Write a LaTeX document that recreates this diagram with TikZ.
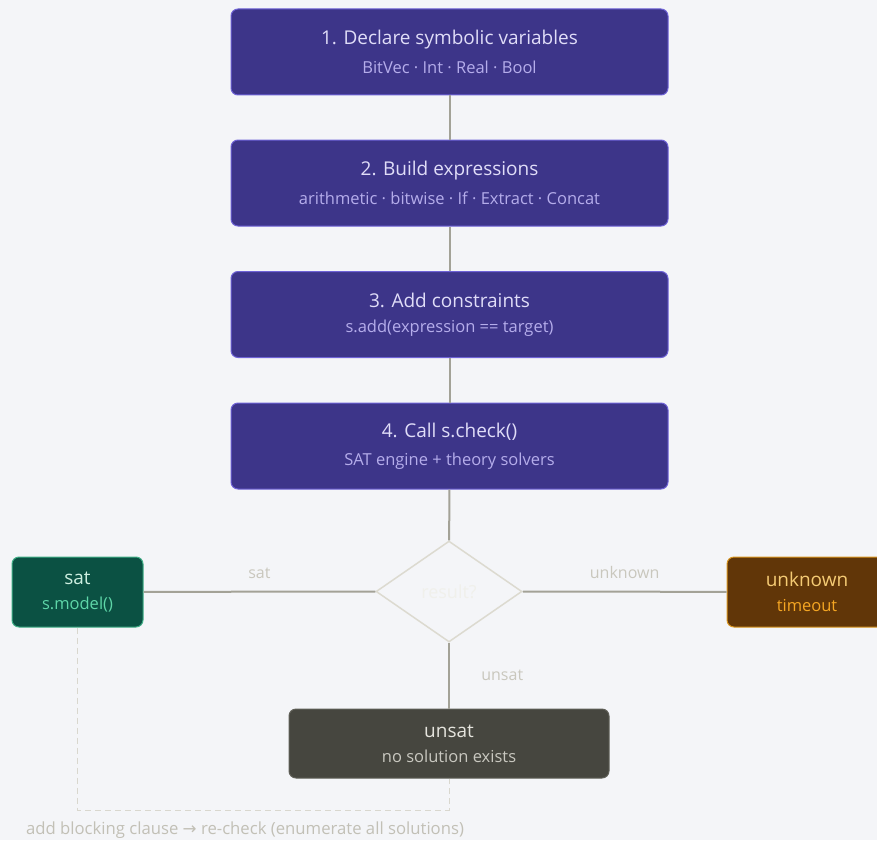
\documentclass[tikz,border=0pt]{standalone}
\usepackage{fontspec}
\setmainfont{Open Sans}
\newfontfamily\arrowfont{DejaVu Sans}
\usetikzlibrary{shapes.geometric}

\definecolor{bg}{HTML}{F4F5F8}
\definecolor{stepfill}{HTML}{3D3589}
\definecolor{stepedge}{HTML}{6E62D6}
\definecolor{steptitle}{HTML}{E0DDF8}
\definecolor{stepsub}{HTML}{B5ADEB}
\definecolor{satfill}{HTML}{0B5143}
\definecolor{satedge}{HTML}{3FAE86}
\definecolor{sattitle}{HTML}{CDEFE0}
\definecolor{satsub}{HTML}{5ED6A8}
\definecolor{unkfill}{HTML}{613608}
\definecolor{unkedge}{HTML}{D9951F}
\definecolor{unktitle}{HTML}{F5CB74}
\definecolor{unksub}{HTML}{F5A623}
\definecolor{unsfill}{HTML}{46463F}
\definecolor{unsedge}{HTML}{606058}
\definecolor{unstitle}{HTML}{E5E4DD}
\definecolor{unssub}{HTML}{C9C8C0}
\definecolor{link}{HTML}{A3A297}
\definecolor{diamedge}{HTML}{DCDAD0}
\definecolor{diamtext}{HTML}{F0F0EB}
\definecolor{labeltext}{HTML}{C9C7BD}
\definecolor{loopcol}{HTML}{D9D7CE}
\definecolor{notetext}{HTML}{C2C0B6}

% two lines of text in a box
\newcommand{\boxlines}[4]{%
  {\color{#1}\fontsize{19}{19}\selectfont #3}\\[11pt]%
  {\color{#2}\fontsize{16.5}{16.5}\selectfont #4}}

\tikzset{
  box/.style={rounded corners=7pt, line width=1pt, align=center, inner sep=0pt},
  stepbox/.style={box, draw=stepedge, fill=stepfill, minimum width=437pt, minimum height=86pt},
  satbox/.style={box, draw=satedge, fill=satfill, minimum width=131pt, minimum height=70pt},
  unkbox/.style={box, draw=unkedge, fill=unkfill, minimum width=160pt, minimum height=70pt},
  unsbox/.style={box, draw=unsedge, fill=unsfill, minimum width=320pt, minimum height=69pt},
  link/.style={draw=link, line width=2pt},
  edgelabel/.style={text=labeltext, font=\fontsize{16}{16}\selectfont},
}

\begin{document}
\begin{tikzpicture}[x=1pt,y=-1pt]
    % Page
    \useasboundingbox (0,0) rectangle (877,840);
    \clip (0,0) rectangle (877,840);
    \fill[bg] (0,0) rectangle (877,840);

    % Steps
    \node[stepbox] (s1) at (449.5,52) {\boxlines{steptitle}{stepsub}{1. Declare symbolic variables}{BitVec · Int · Real · Bool}};
    \node[stepbox] (s2) at (449.5,183) {\boxlines{steptitle}{stepsub}{2. Build expressions}{arithmetic · bitwise · If · Extract · Concat}};
    \node[stepbox] (s3) at (449.5,314.5) {\boxlines{steptitle}{stepsub}{3. Add constraints}{s.add(expression == target)}};
    \node[stepbox] (s4) at (449.5,446) {\boxlines{steptitle}{stepsub}{4. Call s.check()}{SAT engine + theory solvers}};

    % Decision
    \node[diamond, draw=diamedge, line width=1.5pt, fill=bg, minimum width=146pt, minimum height=101pt, inner sep=0pt,
          text=diamtext, font=\fontsize{18}{18}\selectfont] (dec) at (449,591.5) {result?};

    % Outcomes
    \node[satbox] (sat) at (77.5,592) {\boxlines{sattitle}{satsub}{sat}{s.model()}};
    \node[unkbox] (unk) at (807,592) {\boxlines{unktitle}{unksub}{unknown}{timeout}};
    \node[unsbox] (uns) at (449,743.5) {\boxlines{unstitle}{unssub}{unsat}{no solution exists}};

    % Connectors
    \draw[link] (s1) -- (s2);
    \draw[link] (s2) -- (s3);
    \draw[link] (s3) -- (s4);
    \draw[link] (s4) -- (dec);
    \draw[link] (dec.west) -- node[edgelabel, above=9pt] (lsat) {sat} (sat);
    \draw[link] (dec.east) -- node[edgelabel, above=9pt] (lunk) {unknown} (unk);
    \draw[link] (dec.south) -- node[edgelabel, right=28pt] (luns) {unsat} (uns);

    % Enumeration loop
    \coordinate (loopbase) at (449,810);
    \draw[loopcol, line width=1pt, dash pattern=on 6pt off 4pt] (sat.south) |- (loopbase) -- (uns.south);
    \node[text=notetext, font=\fontsize{16.7}{16.7}\selectfont] (note) at (245,830.5)
        {add blocking clause {\arrowfont →} re-check (enumerate all solutions)};
\end{tikzpicture}
\end{document}
